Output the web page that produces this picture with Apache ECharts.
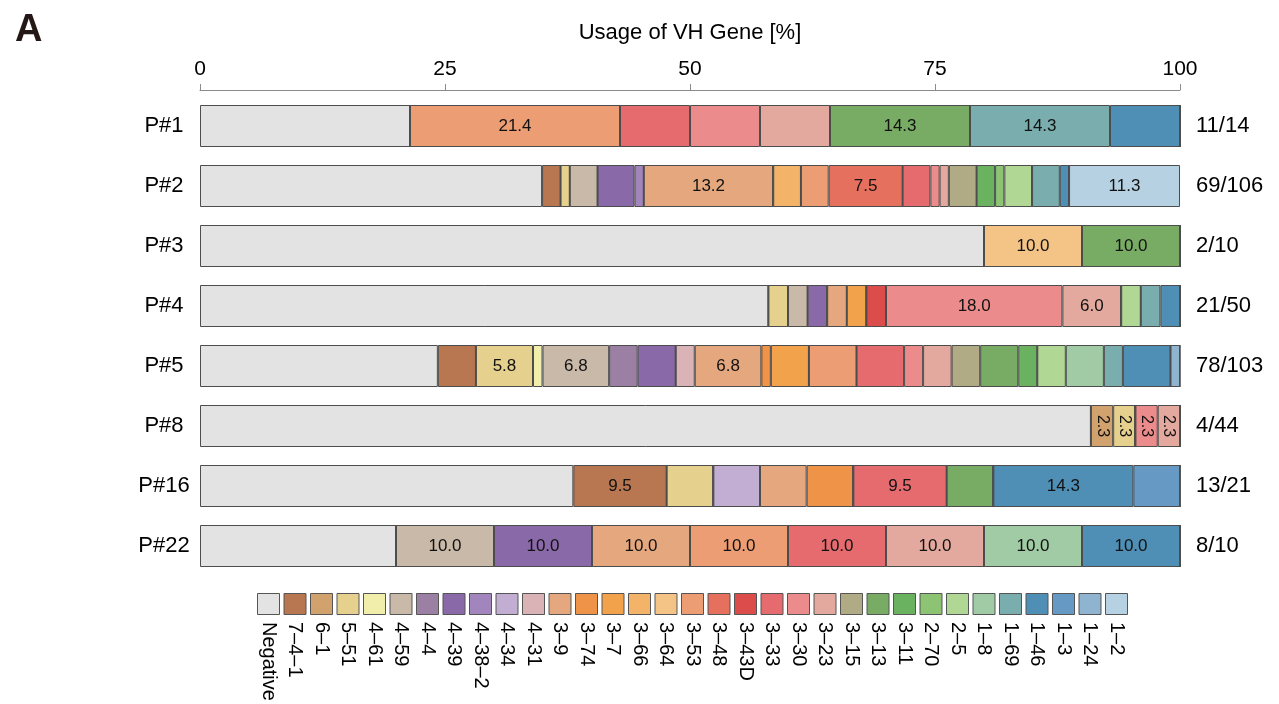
<!DOCTYPE html>
<html>
<head>
<meta charset="utf-8">
<script src="https://cdn.jsdelivr.net/npm/echarts@6/dist/echarts.min.js"></script>
<style>
html,body{margin:0;padding:0;background:#fff;}
#chart{width:1279px;height:704px;}
</style>
</head>
<body>
<div id="chart"></div>
<script>
// ---- data ----
const patients = ['P#1','P#2','P#3','P#4','P#5','P#8','P#16','P#22'];
const ratioLabels = ['11/14','69/106','2/10','21/50','78/103','4/44','13/21','8/10'];
const xTicks = [0, 25, 50, 75, 100];
const genes = ['Negative','7–4–1','6–1','5–51','4–61','4–59','4–4','4–39','4–38–2','4–34','4–31',
  '3–9','3–74','3–7','3–66','3–64','3–53','3–48','3–43D','3–33','3–30','3–23','3–15','3–13','3–11',
  '2–70','2–5','1–8','1–69','1–46','1–3','1–24','1–2'];
const geneColors = ['#e3e3e3','#b87651','#d1a26e','#e6d08e','#f0eeaa','#c9b9a8','#9c80a4','#8a69a8','#a385bd','#c2aed3','#d9b3b6',
  '#e5a87e','#ef9348','#f3a24c','#f3b368','#f4c487','#ec9d73','#e6705e','#dc4c4b','#e56b6e','#eb8b8b','#e4a99e','#b0ab84','#78ab63','#6ab25f',
  '#8cc474','#b0d794','#a1cba4','#7aaeae','#4f8eb5','#6699c3','#8fb4d0','#b6d1e1'];

// counts per patient (gene: count)
const p1  = {'Negative':3,'3–53':3,'3–33':1,'3–30':1,'3–23':1,'3–13':2,'1–69':2,'1–46':1};
const p2  = {'Negative':37,'7–4–1':2,'5–51':1,'4–59':3,'4–39':4,'4–38–2':1,'3–9':14,'3–66':3,'3–53':3,'3–48':8,'3–33':3,'3–30':1,'3–23':1,'3–15':3,'3–11':2,'2–70':1,'2–5':3,'1–69':3,'1–46':1,'1–2':12};
const p3  = {'Negative':8,'3–64':1,'3–13':1};
const p4  = {'Negative':29,'5–51':1,'4–59':1,'4–39':1,'3–9':1,'3–7':1,'3–43D':1,'3–30':9,'3–23':3,'2–5':1,'1–69':1,'1–46':1};
const p5  = {'Negative':25,'7–4–1':4,'5–51':6,'4–61':1,'4–59':7,'4–4':3,'4–39':4,'4–31':2,'3–9':7,'3–74':1,'3–7':4,'3–53':5,'3–33':5,'3–30':2,'3–23':3,'3–15':3,'3–13':4,'3–11':2,'2–5':3,'1–8':4,'1–69':2,'1–46':5,'1–24':1};
const p8  = {'Negative':40,'6–1':1,'5–51':1,'3–30':1,'3–23':1};
const p16 = {'Negative':8,'7–4–1':2,'5–51':1,'4–34':1,'3–9':1,'3–74':1,'3–33':2,'3–13':1,'1–46':3,'1–3':1};
const p22 = {'Negative':2,'4–59':1,'4–39':1,'3–9':1,'3–53':1,'3–33':1,'3–23':1,'1–8':1,'1–46':1};
const patientCounts = [p1,p2,p3,p4,p5,p8,p16,p22];

// segments that carry a value label
const labeledSegments = {
  'P#1':['3–53','3–13','1–69'],
  'P#2':['3–9','3–48','1–2'],
  'P#3':['3–64','3–13'],
  'P#4':['3–30','3–23'],
  'P#5':['5–51','4–59','3–9'],
  'P#8':['6–1','5–51','3–30','3–23'],
  'P#16':['7–4–1','3–33','1–46'],
  'P#22':['4–59','4–39','3–9','3–53','3–33','3–23','1–8','1–46']
};
const rotatedLabelPatients = ['P#8'];

// ---- chart ----
const FONT = 'Liberation Sans, Arial, Helvetica, sans-serif';
const totals = patientCounts.map(o => Object.values(o).reduce((a,b)=>a+b,0));

const barSeries = genes.map((g, gi) => ({
  name: g,
  type: 'bar',
  stack: 'usage',
  xAxisIndex: 0,
  yAxisIndex: 0,
  barWidth: 42,
  itemStyle: {color: geneColors[gi], borderColor: '#4d4d4d', borderWidth: 1},
  emphasis: {disabled: true},
  data: patients.map((p, pi) => {
    const c = patientCounts[pi][g] || 0;
    const v = c / totals[pi] * 100;
    const show = (labeledSegments[p] || []).indexOf(g) >= 0;
    const rot = rotatedLabelPatients.indexOf(p) >= 0;
    return {
      value: c ? v : 0,
      label: {
        show: show,
        position: 'inside',
        formatter: v.toFixed(1),
        fontSize: rot ? 16 : 17,
        color: '#111',
        fontFamily: FONT,
        rotate: rot ? -90 : 0
      }
    };
  })
}));

const legendSeries = {
  type: 'bar',
  xAxisIndex: 1,
  yAxisIndex: 2,
  barWidth: 23,
  silent: true,
  data: genes.map((g, gi) => ({
    value: 1,
    itemStyle: {color: geneColors[gi], borderColor: '#555', borderWidth: 1}
  }))
};

const option = {
  backgroundColor: '#fff',
  animation: false,
  textStyle: {fontFamily: FONT},
  title: {
    text: 'A', left: 10, top: 7,
    textStyle: {fontSize: 38, fontWeight: 'bold', color: '#231815', fontFamily: FONT}
  },
  grid: [
    {left: 200, right: 99, top: 96, height: 480, containLabel: false},
    {left: 255.25, width: 874.5, top: 593, height: 22, containLabel: false}
  ],
  xAxis: [
    {
      type: 'value', gridIndex: 0, position: 'top', offset: 6,
      min: 0, max: 100, interval: 25,
      name: 'Usage of VH Gene [%]', nameLocation: 'middle', nameGap: 46,
      nameTextStyle: {fontSize: 22, color: '#000', fontFamily: FONT},
      axisLine: {show: true, lineStyle: {color: '#8c8c8c', width: 1}},
      axisTick: {show: true, length: 6, lineStyle: {color: '#8c8c8c'}},
      splitLine: {show: false},
      axisLabel: {fontSize: 21, color: '#000', margin: 10, fontFamily: FONT,
        formatter: v => xTicks.indexOf(v) >= 0 ? String(v) : ''}
    },
    {
      type: 'category', gridIndex: 1, data: genes,
      axisLine: {show: false}, axisTick: {show: false},
      axisLabel: {rotate: -90, fontSize: 20, color: '#000', margin: 7, interval: 0, fontFamily: FONT}
    }
  ],
  yAxis: [
    {
      type: 'category', gridIndex: 0, data: patients, inverse: true,
      axisLine: {show: false}, axisTick: {show: false},
      axisLabel: {fontSize: 22, color: '#000', margin: 36, align: 'center', fontFamily: FONT}
    },
    {
      type: 'category', gridIndex: 0, data: ratioLabels, inverse: true, position: 'right',
      axisLine: {show: false}, axisTick: {show: false},
      axisLabel: {fontSize: 22, color: '#000', margin: 16, fontFamily: FONT}
    },
    {
      type: 'value', gridIndex: 1, min: 0, max: 1, show: false
    }
  ],
  series: barSeries.concat([legendSeries])
};

const chart = echarts.init(document.getElementById('chart'), null, {renderer: 'canvas'});
chart.setOption(option);
</script>
</body>
</html>
